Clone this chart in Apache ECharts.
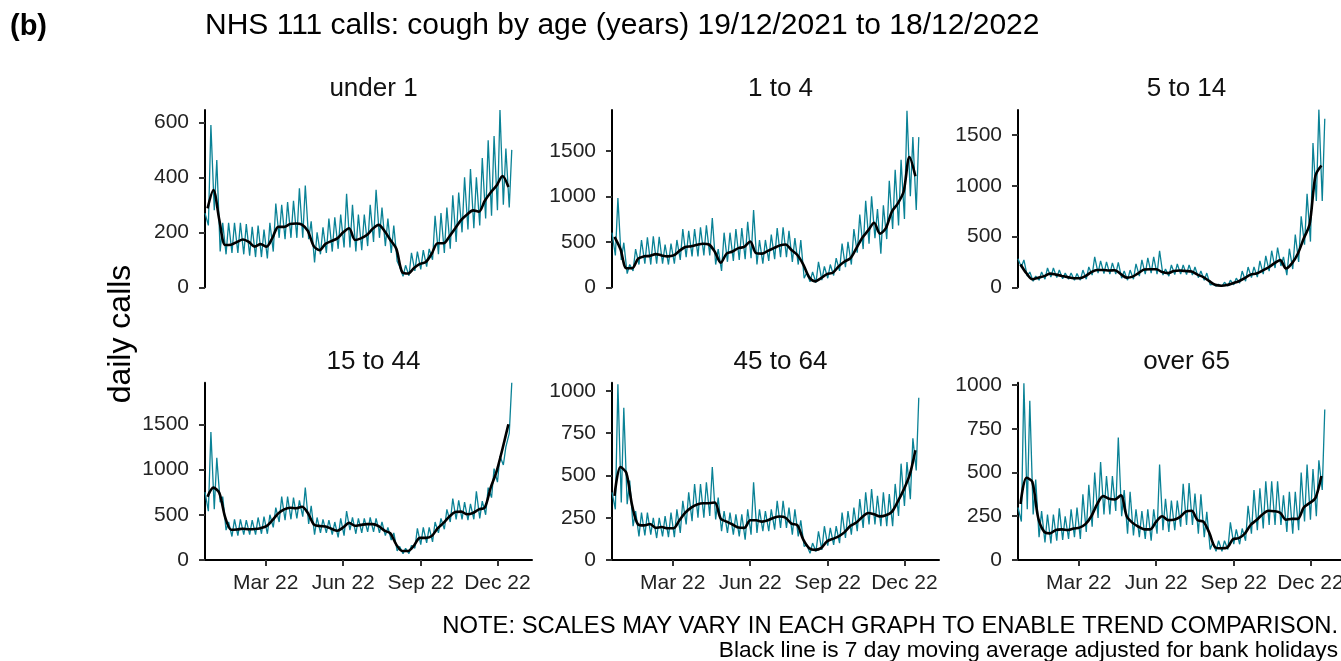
<!DOCTYPE html>
<html>
<head>
<meta charset="utf-8">
<title>NHS 111 calls: cough by age</title>
<script src="https://cdn.jsdelivr.net/npm/echarts@6/dist/echarts.min.js"></script>
<style>
html,body{margin:0;padding:0;background:#fff;}
#container{width:1341px;height:661px;}
</style>
</head>
<body>
<div id="container"></div>
<script>
// values, one per week
// hi = weekend peak (Sundays from 19/12/2021), lo = weekday level (Thursdays), avg = black 7 day average (Wednesdays)
var panelNames = ['under 1', '1 to 4', '5 to 14', '15 to 44', '45 to 64', 'over 65'];

var under1Hi = [270,590,463,235,235,235,235,230,220,225,210,235,305,300,310,315,360,370,240,200,218,250,255,265,340,300,265,265,300,355,290,250,225,75,80,125,130,135,140,260,270,290,335,345,400,430,400,470,535,550,645,505,500];
var under1Lo = [225,280,130,120,125,125,120,115,110,110,105,130,180,175,180,180,180,175,90,120,125,130,140,145,145,130,135,150,165,180,150,125,95,40,42,60,65,75,100,120,125,140,165,200,210,215,225,250,260,280,300,290];
var under1Avg = [287,354,245,154,155,165,174,165,148,157,148,180,220,220,230,232,228,205,150,135,158,168,178,200,215,172,178,190,213,227,205,172,140,55,50,70,85,92,122,160,160,185,215,245,265,280,275,315,345,370,405,365];

var age1to4Hi = [600,980,490,250,420,520,550,560,555,470,480,520,640,620,640,660,680,760,420,600,600,640,650,720,850,520,520,580,650,660,620,540,520,160,170,280,230,250,320,480,500,640,800,950,1000,860,900,1170,1290,1400,1940,1650,1650];
var age1to4Lo = [350,300,150,180,250,260,250,260,260,250,260,300,330,340,340,350,350,250,180,280,290,300,310,320,250,260,290,310,330,330,280,250,100,60,50,80,100,130,180,220,250,380,420,480,540,370,530,640,680,750,1000,850];
var age1to4Avg = [555,420,210,210,315,340,345,365,350,340,350,400,443,450,467,478,470,390,270,370,393,430,445,504,375,370,400,430,460,470,410,355,250,110,65,100,145,160,230,283,320,430,545,625,710,590,650,830,920,1050,1430,1220];

var age5to14Hi = [280,270,150,110,150,190,190,170,140,140,135,170,200,300,260,250,240,245,160,170,230,270,290,300,360,180,220,230,220,220,200,160,140,30,30,50,70,90,160,200,200,260,310,360,390,300,380,520,700,920,1420,1750,1660];
var age5to14Lo = [200,110,60,70,80,100,95,85,80,70,70,80,120,140,135,130,130,90,70,80,110,130,140,130,120,110,125,130,125,120,95,70,25,10,10,12,25,40,60,95,100,130,160,190,210,120,180,250,420,450,850,850];
var age5to14Avg = [225,138,80,95,110,135,125,112,100,89,89,110,150,171,171,165,168,130,95,105,140,175,178,178,150,140,160,165,160,155,125,100,60,25,16,22,40,60,90,125,135,165,195,235,268,185,235,330,480,620,1100,1200];

var age15to44Hi = [750,1415,1130,700,420,450,450,440,440,470,480,500,580,700,700,690,660,800,600,470,450,440,420,460,540,470,460,460,470,460,420,360,300,150,130,160,350,360,360,420,460,560,680,660,640,620,760,650,800,1010,1150,1250,1960];
var age15to44Lo = [540,560,640,330,260,270,280,280,280,290,290,360,420,440,450,460,480,400,280,300,300,280,250,270,330,290,300,310,310,300,270,220,100,70,70,130,170,190,200,300,340,420,450,450,440,450,460,500,690,860,1050,1400];
var age15to44Avg = [700,800,740,470,335,338,345,340,342,352,375,440,515,560,578,572,588,520,395,375,370,345,323,360,410,378,388,397,397,375,325,294,170,100,100,160,245,245,265,350,410,480,530,535,505,520,559,580,800,980,1230,1500];

var age45to64Hi = [400,1040,900,470,290,280,280,250,250,260,280,300,350,400,450,450,460,550,370,290,280,270,270,300,460,300,290,300,350,350,310,300,235,90,100,170,200,190,200,280,290,310,360,400,420,380,400,390,450,570,580,720,960];
var age45to64Lo = [300,340,330,200,140,145,150,130,140,135,135,160,210,230,250,250,260,240,170,160,150,140,120,150,160,170,170,180,190,190,150,140,80,40,50,60,85,90,100,130,150,170,190,210,210,200,200,200,260,320,360,530];
var age45to64Avg = [380,550,515,320,210,205,213,190,195,188,188,235,280,310,328,336,336,340,245,227,210,192,190,235,235,227,235,250,257,250,215,205,120,70,60,70,110,125,140,165,202,222,255,278,270,258,265,285,345,415,500,650];

var over65Hi = [300,1010,910,460,280,260,260,295,250,290,300,375,430,500,560,480,480,700,400,390,290,280,290,290,545,350,340,340,435,440,380,375,275,100,110,110,215,175,180,310,400,410,450,450,450,370,390,390,500,545,520,570,860];
var over65Lo = [220,290,260,130,100,95,110,115,120,130,120,160,190,240,260,260,280,250,150,140,130,120,110,150,170,160,170,190,200,200,150,130,60,50,50,60,90,90,110,150,170,180,200,200,200,160,150,170,220,230,250,400];
var over65Avg = [320,470,447,240,162,152,172,175,171,180,185,205,250,320,365,350,346,370,250,212,190,175,175,219,250,228,230,245,276,281,228,219,155,72,67,70,118,125,150,200,228,260,281,279,270,230,235,235,300,325,355,480];

var yMax = [645, 1948, 1746, 1960, 1049, 1013];
var yTicks200 = [0, 200, 400, 600];
var yTicks500 = [0, 500, 1000, 1500];
var yTicks250 = [0, 250, 500, 750, 1000];
var monthDates = [Date.UTC(2022, 2, 1), Date.UTC(2022, 5, 1), Date.UTC(2022, 8, 1), Date.UTC(2022, 11, 1)];
var monthLabels = ['Mar 22', 'Jun 22', 'Sep 22', 'Dec 22'];

var hiAll = [under1Hi, age1to4Hi, age5to14Hi, age15to44Hi, age45to64Hi, over65Hi];
var loAll = [under1Lo, age1to4Lo, age5to14Lo, age15to44Lo, age45to64Lo, over65Lo];
var avgAll = [under1Avg, age1to4Avg, age5to14Avg, age15to44Avg, age45to64Avg, over65Avg];
var tickAll = [yTicks200, yTicks500, yTicks500, yTicks500, yTicks250, yTicks250];

// x axis counts days from 19/12/2021
var DAY = 86400000;
var start = Date.UTC(2021, 11, 19);
var monthDays = monthDates.map(function (d) { return Math.round((d - start) / DAY); });

var font = 'Liberation Sans, Arial, sans-serif';
var teal = '#0a8296';

var lefts = [205, 612, 1018];
var tops = [110, 382.7];

var grids = [], xAxes = [], yAxes = [], series = [], titles = [];

titles.push({ text: '(b)', left: 5, top: 7, textStyle: { fontFamily: font, fontSize: 29, fontWeight: 'bold', color: '#000' } });
titles.push({ text: 'NHS 111 calls: cough by age (years) 19/12/2021 to 18/12/2022', left: 200, top: 6,
	textStyle: { fontFamily: font, fontSize: 30, fontWeight: 'normal', color: '#000' } });
titles.push({ text: 'NOTE: SCALES MAY VARY IN EACH GRAPH TO ENABLE TREND COMPARISON.', right: -2, top: 609,
	textStyle: { fontFamily: font, fontSize: 23.8, fontWeight: 'normal', color: '#000' } });
titles.push({ text: 'Black line is 7 day moving average adjusted for bank holidays', right: -2, top: 634,
	textStyle: { fontFamily: font, fontSize: 22.7, fontWeight: 'normal', color: '#000' } });

function monthLabel(v) {
	for (var m = 0; m < monthDays.length; m++) {
		if (Math.abs(monthDays[m] - v) < 0.5) return monthLabels[m];
	}
	return '';
}
function plainNumber(v) {
	return String(v);
}

for (var i = 0; i < 6; i++) {
	var col = i % 3, row = Math.floor(i / 3);
	grids.push({ left: lefts[col], top: tops[row], width: 327, height: 177.3, outerBoundsMode: 'none' });
	titles.push({ text: panelNames[i], left: lefts[col] + 163.5, top: tops[row] - 39, textAlign: 'center',
		textStyle: { fontFamily: font, fontSize: 26, fontWeight: 'normal', color: '#111' } });

	xAxes.push({
		type: 'value', gridIndex: i,
		min: 0, max: 388,
		splitLine: { show: false },
		axisLine: { show: row == 1, onZero: false, lineStyle: { color: '#000', width: 2 } },
		axisTick: { show: row == 1, customValues: monthDays, length: 6, lineStyle: { color: '#333', width: 2 } },
		axisLabel: {
			show: row == 1, customValues: monthDays, margin: 13,
			fontFamily: font, fontSize: 21, color: '#222',
			formatter: monthLabel
		}
	});
	yAxes.push({
		type: 'value', gridIndex: i, min: 0, max: yMax[i],
		splitLine: { show: false },
		axisLine: { show: true, lineStyle: { color: '#000', width: 2 } },
		axisTick: { show: true, customValues: tickAll[i], length: 6, lineStyle: { color: '#333', width: 2 } },
		axisLabel: { customValues: tickAll[i], margin: 16, fontFamily: font, fontSize: 21, color: '#222',
			formatter: plainNumber }
	});

	// daily calls as weekend peaks and weekday levels
	var daily = [];
	for (var j = 0; j < hiAll[i].length; j++) {
		daily.push([7 * j, hiAll[i][j]]);
		if (j < loAll[i].length) daily.push([7 * j + 4, loAll[i][j]]);
	}
	var avg = [];
	for (var k = 0; k < avgAll[i].length; k++) {
		avg.push([7 * k + 3, avgAll[i][k]]);
	}
	series.push({ type: 'line', xAxisIndex: i, yAxisIndex: i, data: daily, showSymbol: false,
		lineStyle: { color: teal, width: 1.3 }, z: 2 });
	series.push({ type: 'line', xAxisIndex: i, yAxisIndex: i, data: avg, showSymbol: false, smooth: 0.3,
		lineStyle: { color: '#000', width: 2.6 }, z: 3 });
}

var myChart = echarts.init(document.getElementById('container'));
var option = {
	backgroundColor: '#fff',
	animation: false,
	title: titles,
	grid: grids,
	xAxis: xAxes,
	yAxis: yAxes,
	series: series,
	graphic: [{
		type: 'text', x: 121, y: 334, rotation: Math.PI / 2,
		style: { text: 'daily calls', fontFamily: font, fontSize: 32, fill: '#000', align: 'center', verticalAlign: 'middle' }
	}]
};
myChart.setOption(option);
</script>
</body>
</html>
